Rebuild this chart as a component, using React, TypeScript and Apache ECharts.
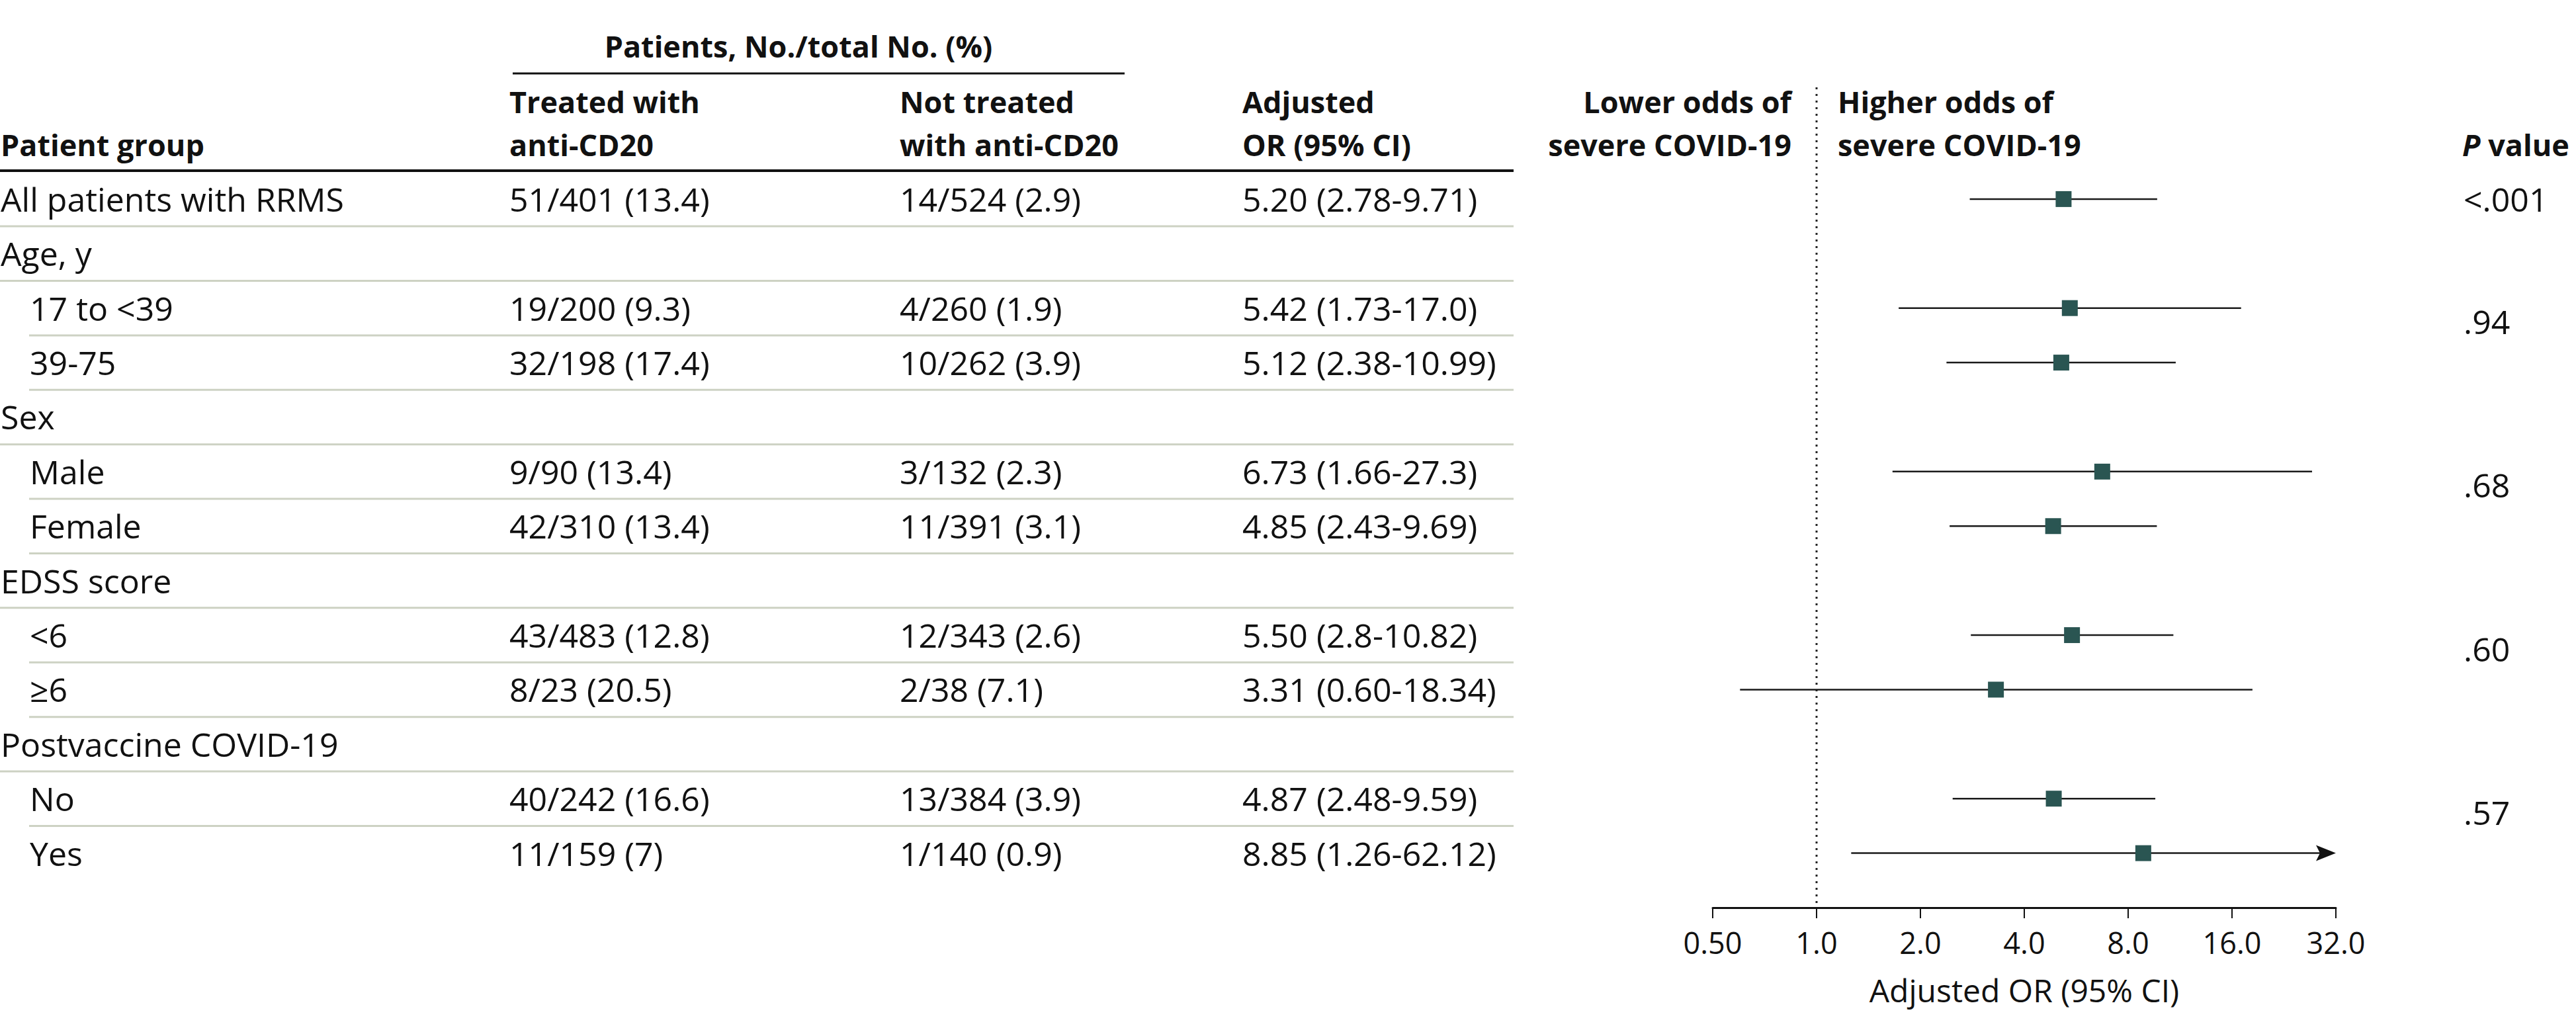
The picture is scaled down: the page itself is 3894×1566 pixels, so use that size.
import React, { useEffect, useRef } from "react";
import * as echarts from "echarts";

// ---------- data ----------
const GROUPS = [
  "All patients with RRMS",
  "Age, y",
  "17 to <39",
  "39-75",
  "Sex",
  "Male",
  "Female",
  "EDSS score",
  "<6",
  "≥6",
  "Postvaccine COVID-19",
  "No",
  "Yes",
];
const INDENTED = [false, false, true, true, false, true, true, false, true, true, false, true, true];
const TREATED = [
  "51/401 (13.4)", "", "19/200 (9.3)", "32/198 (17.4)", "", "9/90 (13.4)", "42/310 (13.4)",
  "", "43/483 (12.8)", "8/23 (20.5)", "", "40/242 (16.6)", "11/159 (7)",
];
const NOT_TREATED = [
  "14/524 (2.9)", "", "4/260 (1.9)", "10/262 (3.9)", "", "3/132 (2.3)", "11/391 (3.1)",
  "", "12/343 (2.6)", "2/38 (7.1)", "", "13/384 (3.9)", "1/140 (0.9)",
];
const OR_LABELS = [
  "5.20 (2.78-9.71)", "", "5.42 (1.73-17.0)", "5.12 (2.38-10.99)", "", "6.73 (1.66-27.3)",
  "4.85 (2.43-9.69)", "", "5.50 (2.8-10.82)", "3.31 (0.60-18.34)", "", "4.87 (2.48-9.59)",
  "8.85 (1.26-62.12)",
];
const OR_VALUES = [5.2, null, 5.42, 5.12, null, 6.73, 4.85, null, 5.5, 3.31, null, 4.87, 8.85];
const CI_LOWER = [2.78, null, 1.73, 2.38, null, 1.66, 2.43, null, 2.8, 0.6, null, 2.48, 1.26];
const CI_UPPER = [9.71, null, 17.0, 10.99, null, 27.3, 9.69, null, 10.82, 18.34, null, 9.59, 62.12];
const P_LABELS = ["<.001", ".94", ".68", ".60", ".57"];
const P_ROW_POS = [0, 2.25, 5.25, 8.25, 11.25];
const X_TICK_VALUES = [0.5, 1, 2, 4, 8, 16, 32];
const X_TICK_LABELS = ["0.50", "1.0", "2.0", "4.0", "8.0", "16.0", "32.0"];
const X_MIN = 0.5;
const X_MAX = 32;

// ---------- layout / style ----------
const W = 3894;
const H = 1566;
const FONT = "Open Sans";
const FS = 50;
const FS_HEAD = 45;
const TXT = "#111111";
const MARK = "#2a5552";
const RULE = "#cdd2c3";

export default function App() {
  const ref = useRef<HTMLDivElement>(null);

  useEffect(() => {
    const chart = echarts.init(ref.current!, null, { renderer: "svg", width: W, height: H });

    const forestData: number[][] = [];
    OR_VALUES.forEach((v, i) => {
      if (v != null) forestData.push([i, v, CI_LOWER[i] as number, CI_UPPER[i] as number]);
    });

    const option: any = {
      animation: false,
      backgroundColor: "#ffffff",
      textStyle: { fontFamily: FONT },
      grid: { left: 2589, right: W - 3531, top: 132, bottom: H - 1372, containLabel: false },
      xAxis: {
        type: "log",
        logBase: 2,
        min: X_MIN,
        max: X_MAX,
        name: "Adjusted OR (95% CI)",
        nameLocation: "middle",
        nameGap: 100,
        nameTextStyle: { fontFamily: FONT, fontSize: 48, color: TXT },
        axisLine: { show: true, onZero: false, lineStyle: { color: "#111", width: 3 } },
        axisTick: { show: true, length: 16, lineStyle: { color: "#111", width: 2 } },
        minorTick: { show: false },
        splitLine: { show: false },
        axisLabel: {
          fontFamily: FONT,
          fontSize: 45,
          color: TXT,
          margin: 30,
          formatter: (v: number) => {
            let best = 0;
            X_TICK_VALUES.forEach((t, k) => {
              if (Math.abs(Math.log2(t) - Math.log2(v)) < Math.abs(Math.log2(X_TICK_VALUES[best]) - Math.log2(v))) best = k;
            });
            return X_TICK_LABELS[best];
          },
        },
      },
      yAxis: {
        type: "value",
        inverse: true,
        min: -2.05,
        max: 13,
        show: false,
      },
      series: [
        {
          type: "line",
          data: [[1, -2.05], [1, 13]],
          symbol: "none",
          silent: true,
          z: 1,
          lineStyle: { color: "#222", width: 3, type: [3, 7] },
        },
        {
          type: "custom",
          clip: false,
          z: 5,
          data: forestData,
          encode: { x: [1, 2, 3], y: 0 },
          renderItem: (params: any, api: any) => {
            const row = api.value(0);
            const or = api.value(1);
            const lo = api.value(2);
            const hi = api.value(3);
            const clipped = hi > X_MAX;
            const pL = api.coord([Math.max(lo, X_MIN), row]);
            const pH = api.coord([Math.min(hi, X_MAX), row]);
            const pO = api.coord([or, row]);
            const children: any[] = [
              {
                type: "line",
                shape: { x1: pL[0], y1: pL[1], x2: clipped ? pH[0] - 22 : pH[0], y2: pH[1] },
                style: { stroke: "#1a1a1a", lineWidth: 2.5 },
              },
            ];
            if (clipped) {
              children.push({
                type: "polygon",
                shape: {
                  points: [
                    [pH[0], pH[1]],
                    [pH[0] - 30, pH[1] - 12],
                    [pH[0] - 24, pH[1]],
                    [pH[0] - 30, pH[1] + 12],
                  ],
                },
                style: { fill: "#111" },
              });
            }
            children.push({
              type: "rect",
              shape: { x: pO[0] - 12, y: pO[1] - 12, width: 24, height: 24 },
              style: { fill: MARK },
            });
            return { type: "group", children };
          },
        },
      ],
    };
    chart.setOption(option);

    const yPix = (r: number) => chart.convertToPixel({ yAxisIndex: 0 }, r) as number;

    const txt = (x: number, y: number, text: string, extra: any = {}) => ({
      type: "text",
      x,
      y,
      silent: true,
      style: {
        text,
        fill: TXT,
        font: `${extra.weight || "normal"} ${extra.size || FS}px "${FONT}"`,
        align: extra.align || "left",
        verticalAlign: "middle",
      },
    });
    const hline = (x1: number, x2: number, y: number, color: string, w: number) => ({
      type: "line",
      silent: true,
      shape: { x1, y1: y, x2, y2: y },
      style: { stroke: color, lineWidth: w },
    });

    const elements: any[] = [];
    // header
    const L1 = 153;
    const L2 = 218;
    const hb = { weight: "bold", size: FS_HEAD };
    elements.push(txt(1207, 69, "Patients, No./total No. (%)", { ...hb, align: "center" }));
    elements.push(hline(775, 1700, 111, "#111", 3));
    elements.push(txt(1, L2, "Patient group", hb));
    elements.push(txt(770, L1, "Treated with", hb));
    elements.push(txt(770, L2, "anti-CD20", hb));
    elements.push(txt(1360, L1, "Not treated", hb));
    elements.push(txt(1360, L2, "with anti-CD20", hb));
    elements.push(txt(1878, L1, "Adjusted", hb));
    elements.push(txt(1878, L2, "OR (95% CI)", hb));
    elements.push(txt(2708, L1, "Lower odds of", { ...hb, align: "right" }));
    elements.push(txt(2708, L2, "severe COVID-19", { ...hb, align: "right" }));
    elements.push(txt(2778, L1, "Higher odds of", hb));
    elements.push(txt(2778, L2, "severe COVID-19", hb));
    elements.push({
      type: "text",
      x: 3722,
      y: L2,
      silent: true,
      style: {
        text: "{i|P} {b|value}",
        fill: TXT,
        align: "left",
        verticalAlign: "middle",
        font: `bold ${FS_HEAD}px "${FONT}"`,
        rich: {
          i: { fontFamily: FONT, fontSize: FS_HEAD, fontWeight: "bold", fontStyle: "italic", fill: TXT },
          b: { fontFamily: FONT, fontSize: FS_HEAD, fontWeight: "bold", fill: TXT },
        },
      },
    });
    elements.push(hline(0, 2288, 258, "#111", 4));

    // rows
    GROUPS.forEach((g, i) => {
      const y = yPix(i);
      elements.push(txt(INDENTED[i] ? 45 : 1, y, g));
      if (TREATED[i]) elements.push(txt(770, y, TREATED[i]));
      if (NOT_TREATED[i]) elements.push(txt(1360, y, NOT_TREATED[i]));
      if (OR_LABELS[i]) elements.push(txt(1878, y, OR_LABELS[i]));
      if (i < GROUPS.length - 1) {
        elements.push(hline(INDENTED[i] ? 44 : 0, 2288, yPix(i + 0.5), RULE, 3));
      }
    });
    P_LABELS.forEach((p, k) => {
      elements.push(txt(3724, yPix(P_ROW_POS[k]), p));
    });

    chart.setOption({ graphic: { elements } });

    return () => chart.dispose();
  }, []);

  return (
    <div
      ref={ref}
      style={{ position: "fixed", left: 0, top: 0, width: W, height: H, background: "#fff" }}
    />
  );
}
